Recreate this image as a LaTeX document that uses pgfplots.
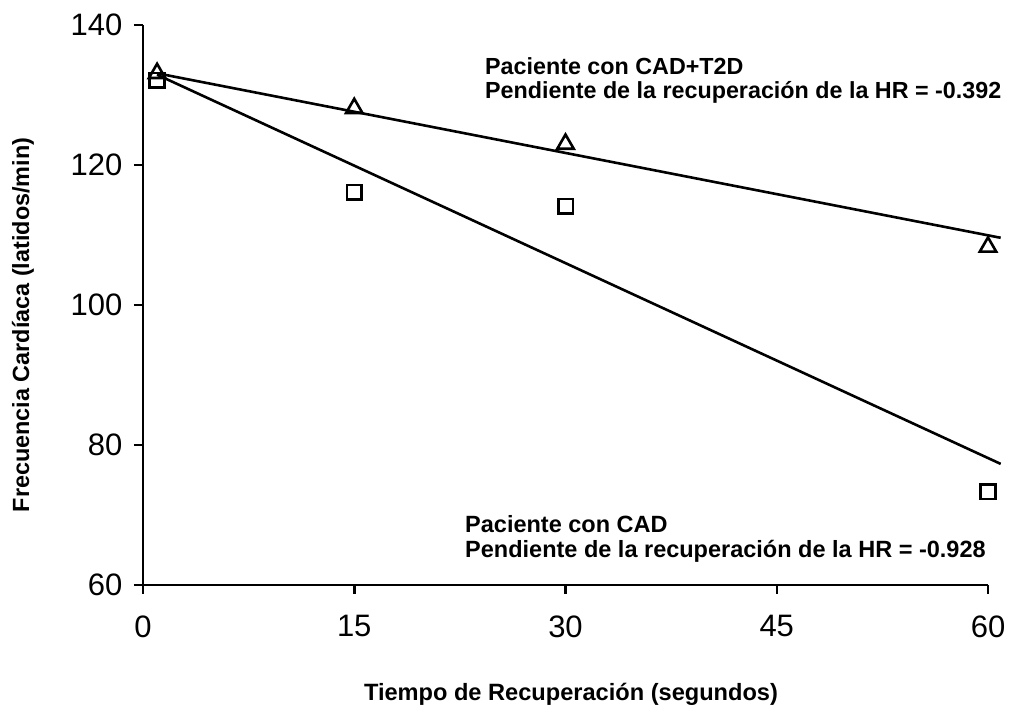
\documentclass[border=0pt]{standalone}
\usepackage{pgfplots}
\pgfplotsset{compat=1.18}
\usepackage{fontspec}
\setmainfont{Liberation Sans}
\begin{document}
\begin{tikzpicture}
\useasboundingbox (-143pt,-121pt) rectangle (871pt,585pt);
\begin{axis}[
  at={(0pt,0pt)}, anchor=south west,
  scale only axis, width=845pt, height=560pt,
  xmin=0, xmax=60, ymin=60, ymax=140,
  axis lines*=left,
  axis line style={line width=2.8pt, black},
  xtick={0,15,30,45,60}, ytick={60,80,100,120,140},
  tick align=outside, major tick length=9pt,
  tick style={line width=2.5pt, black},
  ticklabel style={font=\fontsize{31}{37}\selectfont},
  yticklabel style={xshift=-8pt},
  xticklabel style={yshift=-18pt},
  /pgf/number format/assume math mode=true,
  clip=false,
]
\addplot[line width=2.6pt, black] coordinates {(1,133.1) (60.9,109.6)};
\addplot[line width=2.6pt, black] coordinates {(1,132.9) (60.9,77.3)};
\addplot[only marks, mark=triangle, mark size=9.5pt, mark options={line width=2.6pt, black, fill=white}] coordinates {(1,133.1) (15,128.1) (30,123) (60,108.3)};
\addplot[only marks, mark=square, mark size=7.3pt, mark options={line width=2.6pt, black, fill=white}] coordinates {(1,132.1) (15,116.1) (30,114.1) (60,73.3)};
\end{axis}
\node[anchor=base west, inner sep=0pt, font=\fontsize{23.3}{28}\selectfont\bfseries] at (342pt,510pt) {Paciente con CAD+T2D};
\node[anchor=base west, inner sep=0pt, font=\fontsize{23.3}{28}\selectfont\bfseries] at (342pt,486pt) {Pendiente de la recuperación de la HR = -0.392};
\node[anchor=base west, inner sep=0pt, font=\fontsize{23.5}{28}\selectfont\bfseries] at (322pt,52pt) {Paciente con CAD};
\node[anchor=base west, inner sep=0pt, font=\fontsize{23.5}{28}\selectfont\bfseries] at (322pt,27pt) {Pendiente de la recuperación de la HR = -0.928};
\node[anchor=base, inner sep=0pt, font=\fontsize{23.6}{28}\selectfont\bfseries] at (428pt,-115pt) {Tiempo de Recuperación (segundos)};
\node[anchor=center, rotate=90, inner sep=0pt, font=\fontsize{23.4}{28}\selectfont\bfseries] at (-120pt,260pt) {Frecuencia Cardíaca (latidos/min)};
\end{tikzpicture}
\end{document}
